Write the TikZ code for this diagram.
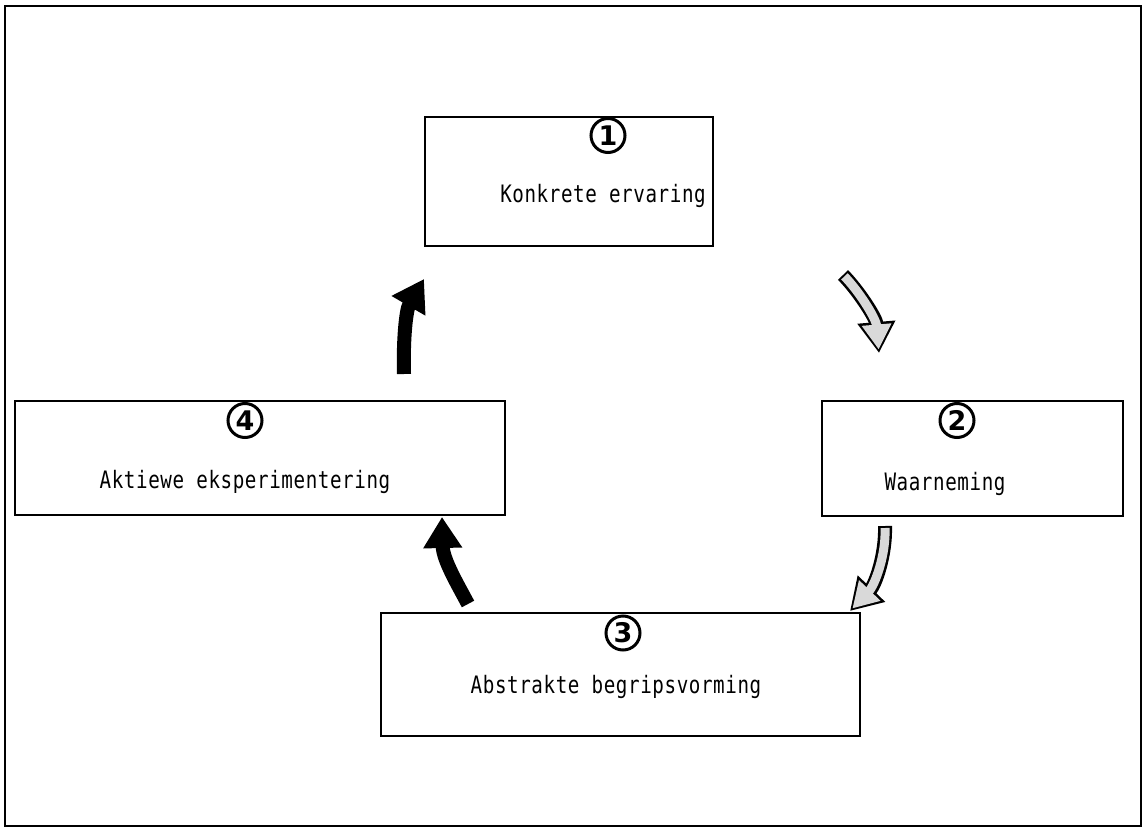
\documentclass[tikz,border=0pt]{standalone}
\usepackage{fontspec}
\newfontfamily\lblfont[FakeStretch=0.8,LetterSpace=2.5]{DejaVu Sans Mono}
\newfontfamily\numfont{DejaVu Sans}
\usetikzlibrary{arrows.meta}

\begin{document}
\begin{tikzpicture}[x=1pt,y=-1pt]
		  \tikzset{
			box/.style={draw,line width=2pt,inner sep=0pt},
			numcirc/.style={circle,draw,line width=3pt,minimum size=34pt,inner sep=0pt,
			  font=\numfont\bfseries\fontsize{27}{27}\selectfont},
			lbl/.style={anchor=base,inner sep=0pt,font=\lblfont\fontsize{24}{28}\selectfont},
			blackarrow/.style={line width=14pt,-{Triangle[length=31pt,width=37pt]}},
			greyout/.style={line width=14pt,-{Triangle[length=31pt,width=36pt]}},
			greyin/.style={gray!30,line width=9pt,shorten <=2pt,shorten >=3.5pt,
			  -{Triangle[length=25pt,width=28pt]}},
		  }
		  \useasboundingbox (0,0) rectangle (1146,832);
		  %FRAME
		  \draw[line width=2pt] (5,6) rectangle (1141,826);
		  %BOX 1
		  \node[box,minimum width=288pt,minimum height=129pt] (b1) at (569,181.5) {};
		  \node[numcirc] (c1) at (608,135.5) {1};
		  \node[lbl] (t1) at (603,202) {Konkrete ervaring};
		  %BOX 2
		  \node[box,minimum width=301pt,minimum height=115pt] (b2) at (972.5,458.5) {};
		  \node[numcirc] (c2) at (957,420.5) {2};
		  \node[lbl] (t2) at (945,490) {Waarneming};
		  %BOX 3
		  \node[box,minimum width=479pt,minimum height=123pt] (b3) at (620.5,674.5) {};
		  \node[numcirc] (c3) at (623,633) {3};
		  \node[lbl] (t3) at (616,693) {Abstrakte begripsvorming};
		  %BOX 4
		  \node[box,minimum width=490pt,minimum height=114pt] (b4) at (260,458) {};
		  \node[numcirc] (c4) at (245,420.5) {4};
		  \node[lbl] (t4) at (245,488) {Aktiewe eksperimentering};
		  %ARROW 1-2
		  \coordinate (a1s) at (843,275);
		  \coordinate (a1e) at (879,353);
		  \draw[greyout] (a1s) .. controls (858,290) and (876,318) .. (a1e);
		  \draw[greyin] (a1s) .. controls (858,290) and (876,318) .. (a1e);
		  %ARROW 2-3
		  \coordinate (a2s) at (885,526);
		  \coordinate (a2e) at (850,611);
		  \draw[greyout] (a2s) .. controls (886,555) and (875,585) .. (a2e);
		  \draw[greyin] (a2s) .. controls (886,555) and (875,585) .. (a2e);
		  %ARROW 3-4
		  \coordinate (a3s) at (468,604);
		  \coordinate (a3e) at (442,517);
		  \draw[blackarrow] (a3s) .. controls (458,585) and (443,560) .. (a3e);
		  %ARROW 4-1
		  \coordinate (a4s) at (404,374);
		  \coordinate (a4e) at (424,279);
		  \draw[blackarrow] (a4s) .. controls (403,340) and (406,310) .. (a4e);
		  \end{tikzpicture}
\end{document}
